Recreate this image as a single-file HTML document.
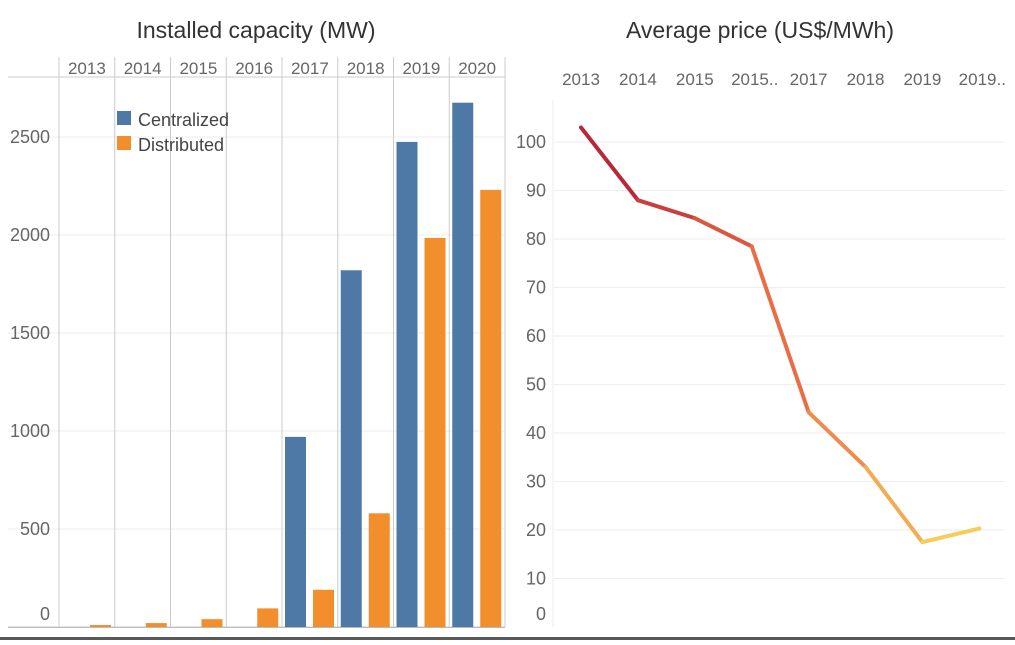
<!DOCTYPE html>
<html><head><meta charset="utf-8"><style>
body{margin:0;background:#fff;font-family:"Liberation Sans",sans-serif}
svg text{font-family:"Liberation Sans",sans-serif}
</style></head><body>
<svg width="1015" height="640" xmlns="http://www.w3.org/2000/svg">
<text x="256" y="38" text-anchor="middle" font-size="23" fill="#333">Installed capacity (MW)</text>
<text x="760" y="38" text-anchor="middle" font-size="23" fill="#333">Average price (US$/MWh)</text>
<g id="left"></g>
<g id="right"></g>
<rect x="0" y="637" width="1015" height="3" fill="#595959"/>
</svg>
<script>
const years=["2013","2014","2015","2016","2017","2018","2019","2020"];
const centralized=[0,0,0,0,970,1820,2475,2675];
const distributed=[10,20,40,95,190,580,1985,2230];
const capTicks=[0,500,1000,1500,2000,2500];
const priceCats=["2013","2014","2015","2015..","2017","2018","2019","2019.."];
const prices=[103,88,84.3,78.5,44.3,33,17.5,20.3];
const priceTicks=[0,10,20,30,40,50,60,70,80,90,100];
const NS="http://www.w3.org/2000/svg";
function mk(p,t,a){const e=document.createElementNS(NS,t);for(const k in a)e.setAttribute(k,a[k]);p.appendChild(e);return e;}
const L=document.getElementById('left');
const x0=59,pw=55.75,base=627;
const yC=v=>base-v*0.196;
capTicks.forEach(t=>{
 const g=mk(L,'line',{x1:8,x2:505,y1:yC(t),y2:yC(t),stroke:t===0?'#ccc':'#eee','stroke-width':1});
 
 
 const tx=mk(L,'text',{x:50,y:yC(t)+(t===0?-7:6),'text-anchor':'end','font-size':18,fill:'#666'});
 tx.textContent=t;
 
 
});
mk(L,'line',{x1:8,x2:505,y1:77,y2:77,stroke:'#ccc'});
years.forEach((y,i)=>{
 const px=x0+i*pw;
 const ln=mk(L,'line',{x1:px,x2:px,y1:57,y2:627,stroke:'#ccc'});
 
 
 const t=mk(L,'text',{x:px+pw/2,y:74,'text-anchor':'middle','font-size':17,fill:'#666'});
 t.textContent=y;
 
 
 if(centralized[i]>0){const r=mk(L,'rect',{x:px+3,y:yC(centralized[i]),width:21,height:base-yC(centralized[i]),fill:'#4e79a7'});
 
 }
 const r2=mk(L,'rect',{x:px+31,y:yC(distributed[i]),width:21,height:base-yC(distributed[i]),fill:'#f28e2b'});
 
 
});
mk(L,'line',{x1:505,x2:505,y1:57,y2:627,stroke:'#ccc'});
mk(L,'line',{x1:8,x2:505,y1:627.5,y2:627.5,stroke:'#bbb'});
[['Centralized','#4e79a7',120],['Distributed','#f28e2b',145]].forEach(([n,c,y])=>{
 const r=mk(L,'rect',{x:117,y:y-9,width:14,height:14,fill:c});
 
 
 const t=mk(L,'text',{x:138,y:y+6,'font-size':18,fill:'#444'});t.textContent=n;
 
 
});
const R=document.getElementById('right');
const yP=v=>627-v*4.85;
const xP=i=>581+i*56.9;
mk(R,'line',{x1:553,x2:553,y1:100,y2:627,stroke:'#eee'});
priceTicks.forEach(t=>{
 if(t>0){const g=mk(R,'line',{x1:553,x2:1005,y1:yP(t),y2:yP(t),stroke:'#eee'});
 
 }
 const tx=mk(R,'text',{x:546,y:yP(t)+(t===0?-7:6),'text-anchor':'end','font-size':18,fill:'#666'});
 tx.textContent=t;
 
 
});
priceCats.forEach((c,i)=>{
 const t=mk(R,'text',{x:xP(i)+(c.endsWith('..')?3:0),y:85,'text-anchor':'middle','font-size':17,fill:'#666'});
 t.textContent=c;
 
 
});
function lerp(a,b,t){return Math.round(a+(b-a)*t);}
const c1=[185,40,58],c2=[246,204,92],mid=[232,110,70];
function col(t){let a,b,u;if(t<0.5){a=c1;b=mid;u=t*2}else{a=mid;b=c2;u=(t-0.5)*2}return `rgb(${lerp(a[0],b[0],u)},${lerp(a[1],b[1],u)},${lerp(a[2],b[2],u)})`;}
const n=prices.length-1;
for(let i=0;i<n;i++){
 const l=mk(R,'line',{x1:xP(i),y1:yP(prices[i]),x2:xP(i+1),y2:yP(prices[i+1]),stroke:col(i/(n-1)),'stroke-width':4,'stroke-linecap':'round'});
 
 
}
</script>
</body></html>
